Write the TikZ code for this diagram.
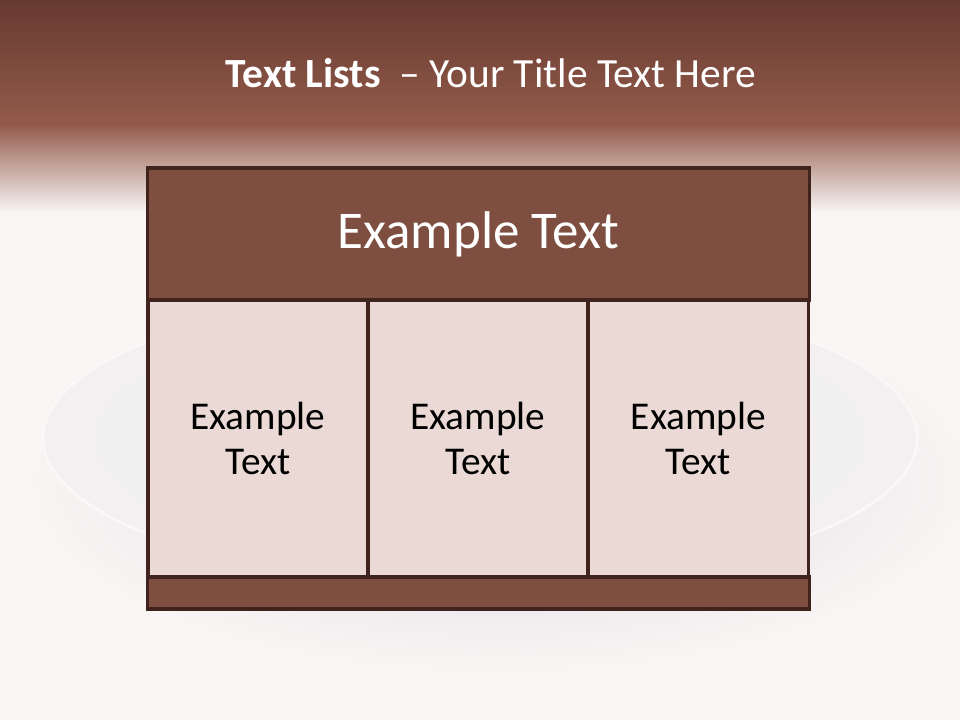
\documentclass[tikz,border=0pt]{standalone}
\usepackage{fontspec}
\setmainfont{Carlito}
\usepackage{xcolor}
\usetikzlibrary{positioning}
\definecolor{BandDark}{HTML}{673A30}
\definecolor{BandMid}{HTML}{935B4B}
\definecolor{PageWhite}{HTML}{F8F5F4}
\definecolor{PlateGrey}{HTML}{EEEDEE}
\definecolor{PlateRim}{HTML}{FAF8F7}
\definecolor{ShadowGrey}{HTML}{D9D8E2}
\definecolor{Umber}{HTML}{7E4F40}
\definecolor{Blush}{HTML}{EAD9D5}
\definecolor{BoxRule}{HTML}{41231E}

\begin{document}
\begin{tikzpicture}[x=0.025cm,y=-0.025cm,
  panel/.style={draw=BoxRule,line width=2.2pt,inner sep=0pt,align=center},
  headbox/.style={panel,fill=Umber,text=white,minimum width=16.525cm,
    minimum height=3.3cm,font=\fontsize{37.7}{44}\selectfont},
  cellbox/.style={panel,fill=Blush,text=black,minimum width=5.5cm,
    minimum height=6.925cm,font=\fontsize{28}{32}\selectfont},
  footbox/.style={panel,fill=Umber,minimum width=16.525cm,minimum height=0.8cm},
  titletext/.style={text=white,inner sep=0pt,font=\fontsize{29.5}{34}\selectfont}
]
  % backdrop and plate
  \fill[PageWhite] (0,0) rectangle (960,720);
  \useasboundingbox (0,0) rectangle (960,720);
  \shade[top color=BandDark,bottom color=BandMid] (0,0) rectangle (960,126);
  \shade[top color=BandMid,bottom color=PageWhite] (0,125) rectangle (960,212);
  \shade[inner color=ShadowGrey,outer color=PageWhite] (500,480) ellipse (470 and 190);
  \shade[inner color=PlateGrey,outer color=PlateGrey!60!PageWhite,draw=PlateRim,line width=2pt]
    (480,438) ellipse (437 and 148);

  \node[titletext,anchor=base] (title) at (491,88)
    {\textbf{Text Lists}\hspace{0.45em}– Your Title Text Here};

  \node[headbox] (header) at (478.5,234) {Example Text};
  \node[cellbox] (cellA) at (258,438.5) {Example\\Text};
  \node[cellbox] (cellB) at (478,438.5) {Example\\Text};
  \node[cellbox] (cellC) at (698.5,438.5) {Example\\Text};
  \node[footbox] (footer) at (478.5,593) {};
\end{tikzpicture}
\end{document}
